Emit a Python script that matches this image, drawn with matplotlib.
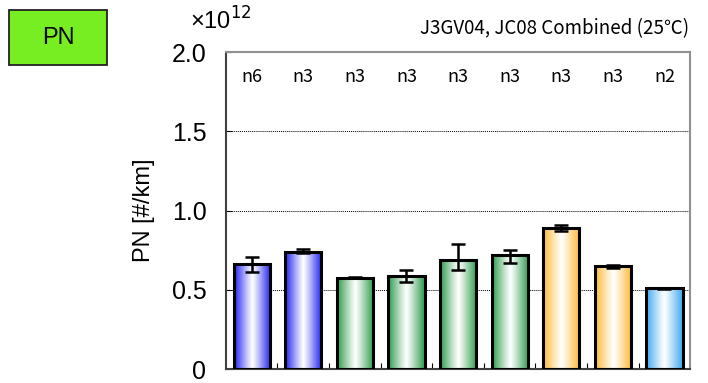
import numpy as np
import matplotlib
matplotlib.use('Agg')
import matplotlib.pyplot as plt
from matplotlib.colors import LinearSegmentedColormap
from matplotlib.patches import Rectangle

# PN por ensayo (x1e12 #/km)
n_labels = ['n6', 'n3', 'n3', 'n3', 'n3', 'n3', 'n3', 'n3', 'n2']
pn = [0.665, 0.742, 0.578, 0.588, 0.688, 0.722, 0.892, 0.648, 0.510]
err_lo = [0.050, 0.012, 0.005, 0.035, 0.065, 0.050, 0.018, 0.010, 0.003]
err_hi = [0.042, 0.015, 0.005, 0.035, 0.100, 0.030, 0.018, 0.010, 0.003]
colores = ['#2020f0', '#2020f0', '#2a9a48', '#2a9a48', '#2a9a48', '#2a9a48',
           '#ffb830', '#ffb830', '#3aa8f0']

titulo = 'J3GV04, JC08 Combined (25℃)'

plt.rcParams['font.family'] = ['Liberation Sans', 'DejaVu Sans']

fig = plt.figure(figsize=(7.08, 3.83), dpi=100)
ax = fig.add_axes([0.319, 0.036, 0.656, 0.828])

x = np.arange(len(pn))
ancho = 0.7

# barras con degradado horizontal: color en los bordes, blanco en el centro
grad = np.abs(np.linspace(-1, 1, 256)) ** 1.1
grad = grad.reshape(1, -1)
for xi, v, c in zip(x, pn, colores):
    cmap = LinearSegmentedColormap.from_list('g', ['white', c])
    im = ax.imshow(grad, cmap=cmap, aspect='auto', vmin=0, vmax=1,
                   extent=[xi - ancho / 2, xi + ancho / 2, 0, v], zorder=2)
    rect = Rectangle((xi - ancho / 2, 0), ancho, v, facecolor='none',
                     edgecolor='black', linewidth=2.2, zorder=3)
    ax.add_patch(rect)
    im.set_clip_path(rect)

ax.errorbar(x, pn, yerr=[err_lo, err_hi], fmt='none', ecolor='black',
            elinewidth=1.8, capsize=5, capthick=1.8, zorder=4)

for xi, t in zip(x, n_labels):
    ax.text(xi, 1.84, t, ha='center', va='center', fontsize=13,
            family=['Noto Sans CJK JP', 'DejaVu Sans'])

ax.set_xlim(-0.5, len(pn) - 0.5)
ax.set_ylim(0, 2.0)
ax.set_yticks([0, 0.5, 1.0, 1.5, 2.0])
ax.set_yticklabels(['0', '0.5', '1.0', '1.5', '2.0'])
ax.set_xticks(np.arange(len(pn) - 1) + 0.5)
ax.set_xticklabels([])
ax.tick_params(axis='y', direction='in', length=4, labelsize=18, pad=14)
ax.tick_params(axis='x', direction='in', length=4)
for g in [0.5, 1.0, 1.5]:
    ax.axhline(g, color='black', linestyle=(0, (1, 1)), linewidth=0.7, zorder=1)

ax.spines['left'].set_color('#404040')
ax.spines['bottom'].set_color('#404040')
ax.spines['top'].set_color('#909090')
ax.spines['right'].set_color('#909090')
for s in ax.spines.values():
    s.set_linewidth(1.5)

ax.set_ylabel('PN [#/km]', fontsize=17, labelpad=12)

fig.text(0.268, 0.945, '×10$^{12}$', fontsize=17, ha='left', va='center')
fig.text(0.973, 0.925, titulo, fontsize=13.5, ha='right', va='center',
         family=['Noto Sans CJK JP', 'DejaVu Sans'])

# recuadro verde con la etiqueta
caja = Rectangle((9 / 708, 1 - 65 / 383), 98 / 708, 55 / 383,
                 transform=fig.transFigure, facecolor='#77ee22',
                 edgecolor='#222222', linewidth=1.3)
fig.patches.append(caja)
fig.text(58 / 708, 1 - 37.5 / 383, 'PN', fontsize=17, ha='center', va='center')

fig.savefig('out.png', dpi=100)
